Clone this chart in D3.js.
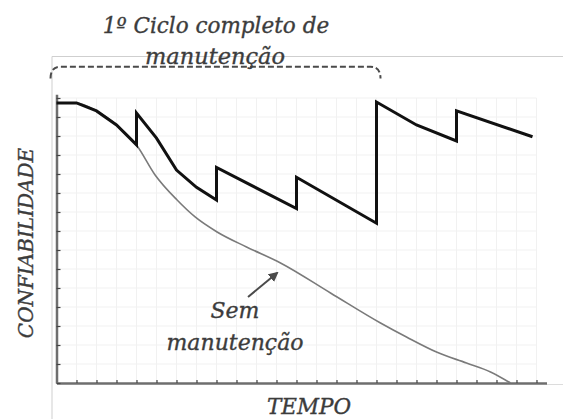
<!DOCTYPE html>
<html>
<head>
<meta charset="utf-8">
<script src="https://cdn.jsdelivr.net/npm/d3@7"></script>
<style>
    body { margin: 0; background: #fff; }
    svg { display: block; }
    .lbl { font-family: "DejaVu Serif", serif; font-style: italic; fill: #3c3c3c; stroke: #3c3c3c; stroke-width: 0.35px; }
</style>
</head>
<body>
<div id="chart"></div>
<script>
"use strict";

// Time axis goes 0..24 (one small tick each), reliability axis 0..15.
const xTicks = d3.range(0, 25);
const yTicks = d3.range(0, 16);

// With maintenance (black). Repeated x = instant jump after a maintenance.
const withMaintX = [0, 1, 2, 3, 4, 4, 5, 6, 7, 8, 8, 12, 12, 16, 16, 18, 20, 20, 23.8];
const withMaintY = [14.74, 14.74, 14.32, 13.58, 12.53, 14.21, 12.89, 11.21, 10.3, 9.63, 11.34, 9.18, 10.83, 8.41, 14.79, 13.58, 12.74, 14.32, 12.96];

// Without maintenance (gray).
const noMaintX = [0, 1, 2, 3, 4, 4.93, 6.03, 6.93, 8.03, 9.5, 11.2, 13.7, 16.2, 17.5, 19.0, 20.5, 21.7, 22.7];
const noMaintY = [14.74, 14.74, 14.32, 13.58, 12.53, 10.95, 9.63, 8.74, 7.95, 7.16, 6.32, 4.74, 3.16, 2.42, 1.63, 1.05, 0.58, 0];

const titleLines = ["1º Ciclo completo de", "manutenção"];
const yLabel = "CONFIABILIDADE";
const xLabel = "TEMPO";
const noteLines = ["Sem", "manutenção"];

const W = 563, H = 419;

const svg = d3.select("#chart").append("svg")
    .attr("width", W)
    .attr("height", H);

const x = d3.scaleLinear().domain([0, 24.5]).range([56.5, 546.5]);
const y = d3.scaleLinear().domain([0, 15.2]).range([383, 94.2]);

// light outer frame
svg.append("path")
    .attr("d", `M52,${H}V56.5H${W}`)
    .attr("fill", "none")
    .attr("stroke", "#cfcfcf")
    .attr("stroke-width", 1);
svg.append("line")
    .attr("x1", x(24.5)).attr("x2", W)
    .attr("y1", 384.5).attr("y2", 384.5)
    .attr("stroke", "#dcdcdc");

// faint grid
const grid = svg.append("g").attr("stroke", "#f1f1f1").attr("stroke-width", 1);
grid.selectAll("line.v").data(xTicks.slice(1)).join("line")
    .attr("class", "v")
    .attr("x1", d => x(d)).attr("x2", d => x(d))
    .attr("y1", y(15)).attr("y2", y(0));
grid.selectAll("line.h").data(yTicks.slice(1)).join("line")
    .attr("class", "h")
    .attr("x1", x(0)).attr("x2", x(24))
    .attr("y1", d => y(d)).attr("y2", d => y(d));

// axes, ticks pointing inwards
const xAxis = d3.axisBottom(x).tickValues(xTicks).tickSizeInner(-3).tickSizeOuter(0).tickFormat("");
const yAxis = d3.axisLeft(y).tickValues(yTicks).tickSizeInner(-4).tickSizeOuter(0).tickFormat("");

const gx = svg.append("g").attr("transform", `translate(0,${y(0)})`).call(xAxis);
const gy = svg.append("g").attr("transform", `translate(${x(0)},0)`).call(yAxis);
[gx, gy].forEach(g => {
    g.select(".domain").attr("stroke", "#6e6e6e").attr("stroke-width", 2.5);
    g.selectAll(".tick line").attr("stroke", "#444").attr("stroke-width", 1.2);
});

// series
const lineOf = (xs, ys) => xs.map((v, i) => [v, ys[i]]);
const line = d3.line().x(d => x(d[0])).y(d => y(d[1]));
const smooth = d3.line().x(d => x(d[0])).y(d => y(d[1])).curve(d3.curveMonotoneX);

svg.append("path")
    .datum(lineOf(noMaintX, noMaintY))
    .attr("d", smooth)
    .attr("fill", "none")
    .attr("stroke", "#7a7a7a")
    .attr("stroke-width", 1.6);

svg.append("path")
    .datum(lineOf(withMaintX, withMaintY))
    .attr("d", line)
    .attr("fill", "none")
    .attr("stroke", "#111")
    .attr("stroke-width", 3)
    .attr("stroke-linejoin", "miter");

// dashed brace over the first full cycle (0..16)
const bx0 = x(0) - 6, bx1 = x(16) + 4, bTop = 66.7, bEnd = 78.5;
svg.append("path")
    .attr("d", `M${bx0},${bEnd} Q${bx0},${bTop} ${bx0 + 10},${bTop} H${bx1 - 10} Q${bx1},${bTop} ${bx1},${bEnd}`)
    .attr("fill", "none")
    .attr("stroke", "#4a4a4a")
    .attr("stroke-width", 2)
    .attr("stroke-dasharray", "6,3");

// title
svg.append("text").attr("class", "lbl")
    .attr("x", 216).attr("y", 33)
    .attr("text-anchor", "middle")
    .style("font-size", "21.5px")
    .text(titleLines[0]);
svg.append("text").attr("class", "lbl")
    .attr("x", 215).attr("y", 64)
    .attr("text-anchor", "middle")
    .style("font-size", "22.5px")
    .text(titleLines[1]);

// axis labels
svg.append("text").attr("class", "lbl")
    .attr("text-anchor", "middle")
    .attr("transform", "translate(33,243) rotate(-90)")
    .style("font-size", "20px")
    .text(yLabel);
svg.append("text").attr("class", "lbl")
    .attr("x", 309).attr("y", 414)
    .attr("text-anchor", "middle")
    .style("font-size", "21.5px")
    .text(xLabel);

// annotation with arrow
svg.append("defs").append("marker")
    .attr("id", "head")
    .attr("viewBox", "0 0 10 10")
    .attr("refX", 8).attr("refY", 5)
    .attr("markerWidth", 5).attr("markerHeight", 5)
    .attr("orient", "auto")
    .append("path")
    .attr("d", "M0,0L10,5L0,10z")
    .attr("fill", "#4a4a4a");
svg.append("line")
    .attr("x1", 248).attr("y1", 297)
    .attr("x2", 277).attr("y2", 273)
    .attr("stroke", "#4a4a4a")
    .attr("stroke-width", 2)
    .attr("marker-end", "url(#head)");
svg.append("text").attr("class", "lbl")
    .attr("x", 235).attr("y", 318)
    .attr("text-anchor", "middle")
    .style("font-size", "22px")
    .text(noteLines[0]);
svg.append("text").attr("class", "lbl")
    .attr("x", 235).attr("y", 350)
    .attr("text-anchor", "middle")
    .style("font-size", "22px")
    .text(noteLines[1]);
</script>
</body>
</html>
